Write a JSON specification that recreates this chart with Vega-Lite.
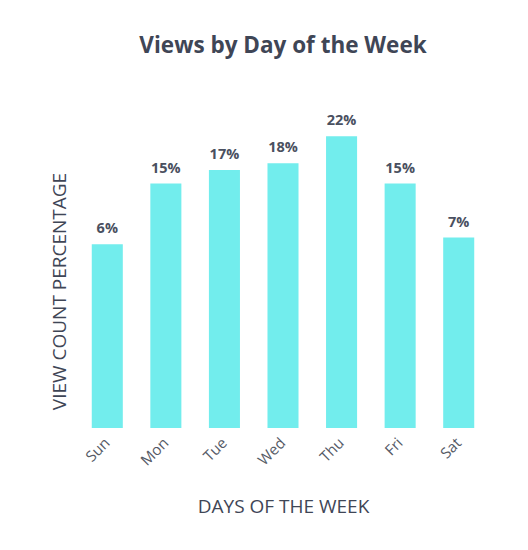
{
  "$schema": "https://vega.github.io/schema/vega-lite/v6.json",
  "width": 410,
  "height": 312,
  "autosize": {"type": "none"},
  "padding": {"left": 78, "top": 116, "right": 40, "bottom": 122},
  "background": "white",
  "title": {
    "text": "Views by Day of the Week",
    "anchor": "middle",
    "frame": "group",
    "font": "Open Sans",
    "fontSize": 22.5,
    "fontWeight": "bold",
    "color": "#3f4656",
    "offset": 56
  },
  "config": {
    "view": {"stroke": null},
    "font": "Open Sans"
  },
  "data": {
    "values": [
      {"day": "Sun", "pct": 6},
      {"day": "Mon", "pct": 15},
      {"day": "Tue", "pct": 17},
      {"day": "Wed", "pct": 18},
      {"day": "Thu", "pct": 22},
      {"day": "Fri", "pct": 15},
      {"day": "Sat", "pct": 7}
    ]
  },
  "encoding": {
    "x": {
      "field": "day",
      "type": "nominal",
      "sort": null,
      "scale": {"paddingInner": 0.47, "paddingOuter": 0.235},
      "axis": {
        "title": "DAYS OF THE WEEK",
        "titleFont": "Open Sans",
        "titleFontSize": 19,
        "titleFontWeight": "normal",
        "titleColor": "#3f4656",
        "titleY": 84,
        "titleBaseline": "alphabetic",
        "labelAngle": -45,
        "labelAlign": "right",
        "labelBaseline": "middle",
        "labelFont": "Open Sans",
        "labelFontSize": 15,
        "labelColor": "#555a66",
        "labelPadding": 12,
        "ticks": false,
        "domain": false
      }
    }
  },
  "layer": [
    {
      "mark": {"type": "bar", "color": "#72eded"},
      "encoding": {
        "y": {
          "field": "pct",
          "type": "quantitative",
          "scale": {"domain": [-21.2, 25], "zero": false, "nice": false},
          "axis": {
            "title": "VIEW COUNT PERCENTAGE",
            "titleFont": "Open Sans",
            "titleFontSize": 19,
            "titleFontWeight": "normal",
            "titleColor": "#3f4656",
            "titleAngle": -90,
            "titleX": -13,
            "titleY": 175,
            "titleAlign": "center",
            "titleBaseline": "alphabetic",
            "labels": false,
            "ticks": false,
            "domain": false,
            "grid": false
          }
        },
        "y2": {"datum": -21.2}
      }
    },
    {
      "mark": {
        "type": "text",
        "dy": -15,
        "font": "Open Sans",
        "fontSize": 14.5,
        "fontWeight": "bold",
        "color": "#4a5060",
        "text": {"expr": "datum.pct + '%'"}
      },
      "encoding": {
        "y": {"field": "pct", "type": "quantitative"}
      }
    }
  ]
}
